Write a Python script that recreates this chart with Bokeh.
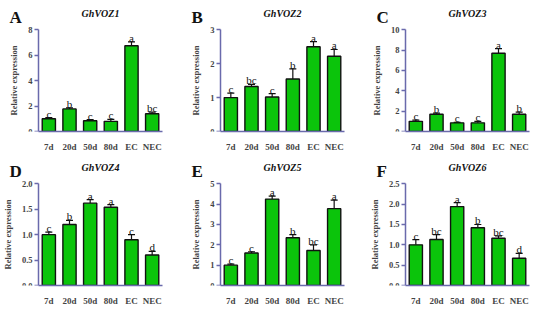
from bokeh.plotting import figure
from bokeh.layouts import gridplot
from bokeh.models import (Range1d, ColumnDataSource, Whisker, TeeHead, Label,
                          FixedTicker, NumeralTickFormatter)
from bokeh.core.properties import value
from bokeh.embed import file_html
from bokeh.resources import INLINE

categories = ["7d", "20d", "50d", "80d", "EC", "NEC"]

genes = ["GhVOZ1", "GhVOZ2", "GhVOZ3", "GhVOZ4", "GhVOZ5", "GhVOZ6"]
panel_letters = ["A", "B", "C", "D", "E", "F"]

voz1_mean = [1.0, 1.78, 0.85, 0.80, 6.75, 1.40]
voz1_err = [0.10, 0.08, 0.08, 0.15, 0.30, 0.12]
voz1_sig = ["c", "b", "c", "c", "a", "bc"]

voz2_mean = [1.0, 1.33, 1.02, 1.55, 2.50, 2.22]
voz2_err = [0.13, 0.06, 0.10, 0.30, 0.15, 0.20]
voz2_sig = ["c", "bc", "c", "b", "a", "a"]

voz3_mean = [1.0, 1.70, 0.85, 0.85, 7.70, 1.70]
voz3_err = [0.12, 0.10, 0.05, 0.15, 0.45, 0.20]
voz3_sig = ["c", "b", "c", "c", "a", "b"]

voz4_mean = [1.0, 1.20, 1.62, 1.54, 0.90, 0.60]
voz4_err = [0.05, 0.08, 0.07, 0.05, 0.10, 0.07]
voz4_sig = ["c", "b", "a", "a", "c", "d"]

voz5_mean = [1.0, 1.60, 4.25, 2.35, 1.72, 3.78]
voz5_err = [0.05, 0.06, 0.15, 0.15, 0.28, 0.42]
voz5_sig = ["c", "c", "a", "b", "bc", "a"]

voz6_mean = [1.0, 1.13, 1.94, 1.42, 1.16, 0.67]
voz6_err = [0.13, 0.12, 0.10, 0.08, 0.06, 0.12]
voz6_sig = ["c", "bc", "a", "b", "bc", "d"]

y_max = [8, 3, 10, 2.0, 5, 2.5]
y_step = [2, 1, 2, 0.5, 1, 0.5]

means = [voz1_mean, voz2_mean, voz3_mean, voz4_mean, voz5_mean, voz6_mean]
errs = [voz1_err, voz2_err, voz3_err, voz4_err, voz5_err, voz6_err]
sigs = [voz1_sig, voz2_sig, voz3_sig, voz4_sig, voz5_sig, voz6_sig]

SERIF = "Liberation Serif"
AXIS_COLOR = "#6a6aac"
BAR_COLOR = "#0bc40b"

# layout (pixels)
col_widths = [178, 180, 176]
axis_px = [38, 42, 47]      # y-axis position from the figure's left edge
axis_len_px = 124           # length of the x axis line
fig_h = 154
bottom_px = 20              # space for the x tick labels
top_px = 30                 # space above the top tick


def make_panel(i):
    r, c = divmod(i, 3)
    w = col_widths[c]
    n = len(categories)
    upp = n / axis_len_px                     # data units per pixel along x
    x_pos = [k + 0.5 for k in range(n)]
    frame_h = fig_h - bottom_px
    y_top = y_max[i] * frame_h / (frame_h - top_px)

    p = figure(width=w, height=fig_h,
               x_range=Range1d(-axis_px[c] * upp, (w - axis_px[c]) * upp),
               y_range=Range1d(0, y_top), output_backend="svg",
               toolbar_location=None, min_border_left=0, min_border_right=0,
               min_border_top=0, min_border_bottom=bottom_px)
    p.outline_line_color = None
    p.grid.grid_line_color = None
    p.background_fill_color = None
    p.border_fill_color = None

    tops = [m + e for m, e in zip(means[i], errs[i])]
    src = ColumnDataSource(dict(x=x_pos, top=means[i], upper=tops, sig=sigs[i]))
    p.vbar(x="x", top="top", width=0.64, source=src, fill_color=BAR_COLOR,
           line_color="#111111", line_width=1.4)
    wk = Whisker(base="x", lower="top", upper="upper", source=src,
                 line_color="#111111", line_width=1.2,
                 upper_head=TeeHead(size=7, line_color="#111111", line_width=1.2),
                 lower_head=None)
    p.add_layout(wk)
    p.text(x="x", y="upper", text="sig", source=src, text_align="center",
           text_baseline="alphabetic", y_offset=-4,
           text_font=value(SERIF), text_font_size="11px", text_color="#111111")

    # y axis, pinned at the left end of the category axis
    nt = int(round(y_max[i] / y_step[i]))
    p.yaxis.fixed_location = 0
    p.yaxis.bounds = (0, y_max[i])
    p.yaxis.ticker = FixedTicker(ticks=[k * y_step[i] for k in range(nt + 1)])
    p.yaxis.minor_tick_line_color = None
    p.yaxis.major_tick_out = 4
    p.yaxis.major_tick_in = 0
    p.yaxis.major_tick_line_color = AXIS_COLOR
    p.yaxis.major_tick_line_width = 1.3
    p.yaxis.axis_line_color = AXIS_COLOR
    p.yaxis.axis_line_width = 1.5
    p.yaxis.major_label_text_font = SERIF
    p.yaxis.major_label_text_font_style = "bold"
    p.yaxis.major_label_text_font_size = "8.5px"
    p.yaxis.major_label_standoff = 2
    p.yaxis.axis_label = "Relative expression"
    p.yaxis.axis_label_text_font = SERIF
    p.yaxis.axis_label_text_font_style = "bold"
    p.yaxis.axis_label_text_font_size = "8.5px"
    p.yaxis.axis_label_standoff = 6
    if y_step[i] < 1:
        p.yaxis.formatter = NumeralTickFormatter(format="0.0")
    else:
        p.yaxis.formatter = NumeralTickFormatter(format="0")

    # x axis with category labels
    p.xaxis.bounds = (0, n)
    p.xaxis.ticker = FixedTicker(ticks=x_pos)
    p.xaxis.major_label_overrides = {xp: cat for xp, cat in zip(x_pos, categories)}
    p.xaxis.axis_line_color = AXIS_COLOR
    p.xaxis.axis_line_width = 1.5
    p.xaxis.major_tick_line_color = None
    p.xaxis.minor_tick_line_color = None
    p.xaxis.major_label_text_font = SERIF
    p.xaxis.major_label_text_font_style = "bold"
    p.xaxis.major_label_text_font_size = "9px"
    p.xaxis.major_label_standoff = 4

    # gene name and panel letter
    y_line = frame_h - top_px
    p.add_layout(Label(x=n / 2, y=y_line + 14, y_units="screen",
                       text=genes[i], text_align="center", text_baseline="alphabetic",
                       text_font=SERIF, text_font_style="bold italic",
                       text_font_size="10px", text_color="#111111"))
    p.add_layout(Label(x=axis_px[c] - 29, y=y_line + 10, x_units="screen", y_units="screen",
                       text=panel_letters[i], text_align="left", text_baseline="alphabetic",
                       text_font=SERIF, text_font_style="bold",
                       text_font_size="17px", text_color="#111111"))
    return p


panels = [make_panel(i) for i in range(6)]
grid = gridplot([panels[0:3], panels[3:6]], toolbar_location=None)

open("out.html", "w").write(file_html(grid, INLINE))
